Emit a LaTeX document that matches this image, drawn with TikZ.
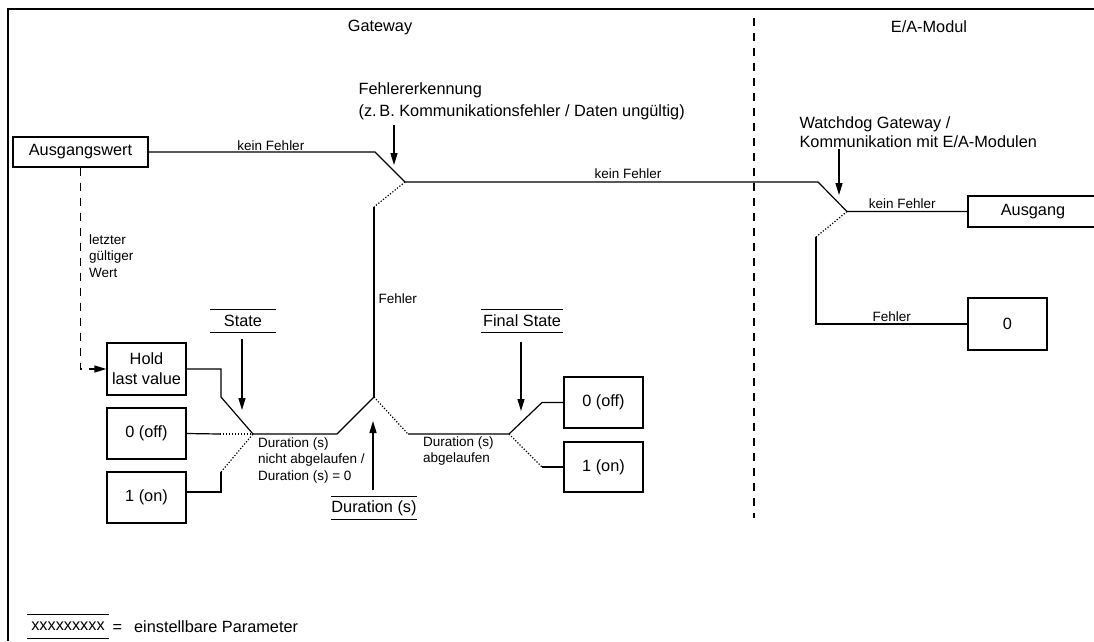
\documentclass[tikz,border=0pt]{standalone}
\usepackage{fontspec}
\setmainfont{Liberation Sans}
\usetikzlibrary{arrows.meta}
\newcommand\bigf{\fontsize{16.3}{20}\selectfont}
\newcommand\smallf{\fontsize{13.5}{16.5}\selectfont}
\tikzset{
  box/.style={draw, line width=1.3pt, font=\bigf, align=center, inner sep=0pt},
  lbl/.style={font=\smallf, inner sep=1.5pt},
  txt/.style={font=\bigf, inner sep=0pt},
  param/.style={font=\bigf, inner xsep=0pt, inner ysep=0pt, minimum height=22pt},
  arr/.style={line width=1.3pt, -{Triangle[length=12pt,width=7pt]}},
  dotl/.style={dash pattern=on 1.2pt off 1.8pt},
  dshl/.style={dash pattern=on 8pt off 7pt},
}
\begin{document}
\begin{tikzpicture}[x=1pt,y=-1pt,line width=1.2pt]
\useasboundingbox (0,0) rectangle (1094,641);
% frame
\draw[line width=1.3pt] (1094,9) -- (8,9) -- (8,641);
% divider
\draw[dshl] (754,18) -- (754,518);
% headings
\node[txt] (gw) at (380,27) {Gateway};
\node[txt] (ea) at (929,27) {E/A-Modul};

% boxes
\node[box, minimum width=135pt, minimum height=30pt] (aw) at (80.5,152) {Ausgangswert};
\node[box, minimum width=79pt, minimum height=52pt] (hold) at (146.5,369) {Hold\\last value};
\node[box, minimum width=79pt, minimum height=51pt] (off1) at (146.5,433.5) {0 (off)};
\node[box, minimum width=79pt, minimum height=51pt] (on1) at (146.5,497.5) {1 (on)};
\node[box, minimum width=79pt, minimum height=51pt] (off2) at (603.5,402.5) {0 (off)};
\node[box, minimum width=79pt, minimum height=50pt] (on2) at (603.5,467) {1 (on)};
\node[box, minimum width=130pt, minimum height=31pt] (ausgang) at (1033,211.5) {Ausgang};
\node[box, minimum width=79pt, minimum height=52pt] (zero) at (1007.5,324) {0};

% parameter labels
\node[param, minimum width=65pt] (state) at (243,321) {State};
\node[param, minimum width=80pt] (fstate) at (522,321) {Final State};
\node[param, minimum width=72pt] (dur) at (374,508) {Duration (s)};
\node[param, minimum width=80pt] (xx) at (68,626.5) {xxxxxxxxx};
\foreach \n in {state,fstate,dur,xx}{
  \draw[line width=1.1pt] (\n.north west) -- (\n.north east);
  \draw[line width=1.1pt] (\n.south west) -- (\n.south east);
}
\node[txt, anchor=west] (legend) at (112,627) {=\hspace{12pt}einstellbare Parameter};

% text notes
\node[txt, anchor=west, align=left, font=\fontsize{16.3}{22}\selectfont] (fehl) at (358,101)
  {Fehlererkennung\\(z.\,B. Kommunikationsfehler / Daten ungültig)};
\node[txt, anchor=west, align=left, font=\fontsize{16.3}{19}\selectfont] (wd) at (799,132)
  {Watchdog Gateway /\\Kommunikation mit E/A-Modulen};
\node[lbl, anchor=west, align=left] (letzt) at (87,256) {letzter\\gültiger\\Wert};
\node[lbl, anchor=west, align=left] (dna) at (256,460) {Duration (s)\\nicht abgelaufen /\\Duration (s) = 0};
\node[lbl, anchor=west, align=left] (dab) at (421,451) {Duration (s)\\abgelaufen};

% junction coordinates
\coordinate (jA1) at (375,152);
\coordinate (jA) at (405,182);
\coordinate (jFe) at (374,207);
\coordinate (jDur) at (374,397);
\coordinate (jS) at (253,434);
\coordinate (jS1) at (337,434);
\coordinate (jH1) at (221,369);
\coordinate (jH2) at (221,397);
\coordinate (jO1) at (220,434);
\coordinate (jN1) at (221,492);
\coordinate (jN2) at (221,472);
\coordinate (jD2) at (408,434);
\coordinate (jF) at (509,434);
\coordinate (jF1) at (542,402.5);
\coordinate (jF2) at (542,467);
\coordinate (jW1) at (818,182);
\coordinate (jW) at (847,211.5);
\coordinate (jW2) at (816,237);
\coordinate (jW3) at (816,324);
\coordinate (jL) at (80.5,369);
% arrow tips
\coordinate (tE) at (394,165);
\coordinate (tW) at (839,195);
\coordinate (tS) at (242,410);
\coordinate (tF) at (521,411);
\coordinate (tD) at (373,421);

% main path
\draw (aw.east) -- node[lbl, above, pos=0.54, inner sep=0.5pt] {kein Fehler} (jA1) -- (jA)
  -- node[lbl, above, pos=0.54, inner sep=3pt] {kein Fehler} (jW1) -- (jW)
  -- node[lbl, above, pos=0.46, inner sep=2pt] {kein Fehler} (ausgang.west);
\draw[dotl] (jA) -- (jFe);
\draw (jFe) -- node[lbl, right, pos=0.48, inner sep=4pt] {Fehler} (jDur);
\draw (jDur) -- (jS1) -- (jS);
\draw[dotl] (jDur) -- (jD2);
\draw (jD2) -- (jF) -- (jF1) -- (off2.west);
\draw[dotl] (jF) -- (jF2);
\draw (jF2) -- (on2.west);
% state inputs
\draw (hold.east) -- (jH1) -- (jH2) -- (jS);
\draw (off1.east) -- (jO1);
\draw[dotl] (jO1) -- (jS);
\draw (on1.east |- jN1) -- (jN1) -- (jN2);
\draw[dotl] (jN2) -- (jS);
% last valid value
\draw[dshl] (aw.south) -- (jL) -- ([xshift=-12pt]hold.west);
\draw[line width=1.3pt, -{Triangle[length=12pt,width=7pt]}] ([xshift=-12.5pt]hold.west) -- (hold.west);
% E/A module
\draw[dotl] (jW) -- (jW2);
\draw (jW2) -- (jW3) -- node[lbl, above, pos=0.5, inner sep=2pt] {Fehler} (zero.west);

% parameter arrows
\draw[arr] ([yshift=-5pt]fehl.south -| tE) -- (tE);
\draw[arr] ([yshift=-1pt]wd.south -| tW) -- (tW);
\draw[arr] ([yshift=-6pt]state.south -| tS) -- (tS);
\draw[arr] ([yshift=-9pt]fstate.south -| tF) -- (tF);
\draw[arr] ([yshift=6pt]dur.north -| tD) -- (tD);
\end{tikzpicture}
\end{document}
